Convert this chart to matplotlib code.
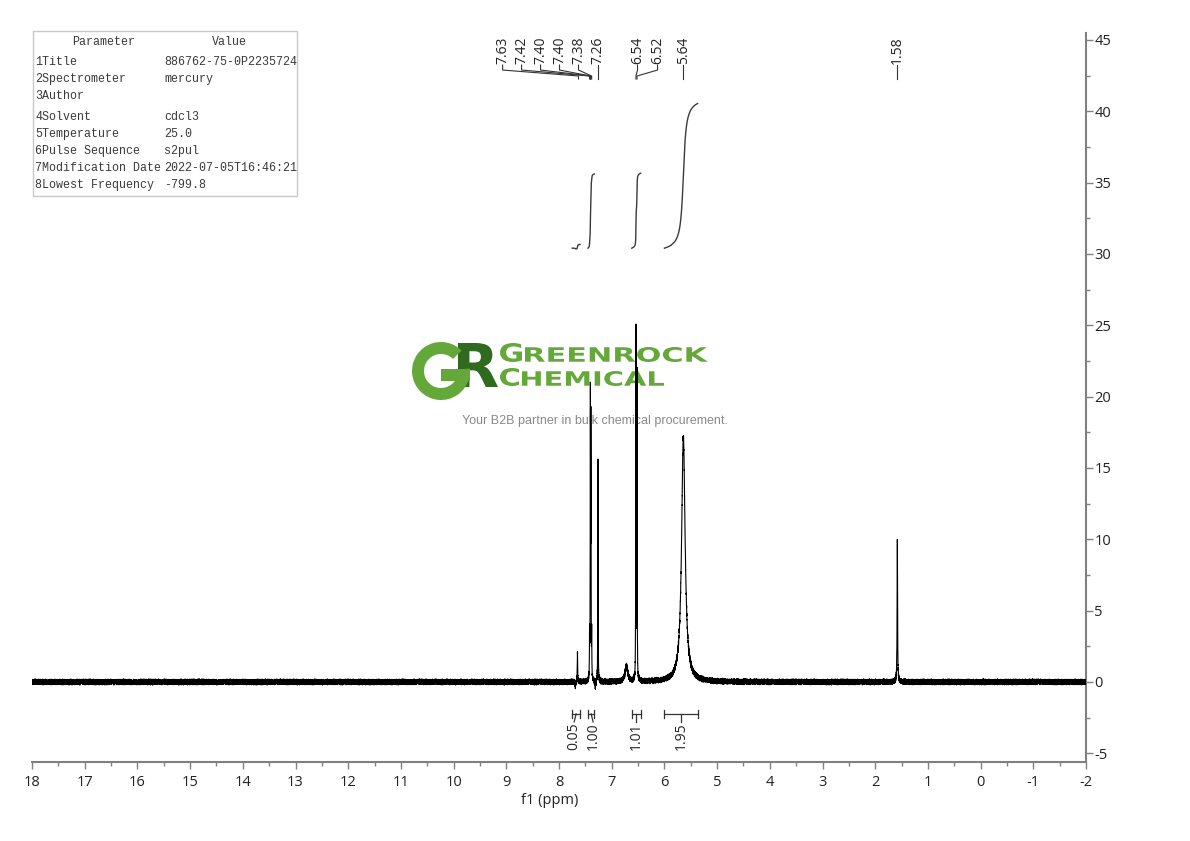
import numpy as np
import matplotlib
matplotlib.use("Agg")
import matplotlib.pyplot as plt
from matplotlib.textpath import TextPath
from matplotlib.patches import PathPatch, Wedge, Rectangle
from matplotlib.font_manager import FontProperties
from matplotlib.transforms import Affine2D, blended_transform_factory
from matplotlib.ticker import MultipleLocator

plt.rcParams["axes.unicode_minus"] = False
plt.rcParams["font.family"] = ["Open Sans", "DejaVu Sans"]

# ---------------- data ----------------
# spectrum lines (ppm, height, half width)
peak_ppm = [7.65, 7.69, 7.42, 7.405, 7.395, 7.38, 7.31, 7.26, 6.72, 6.54, 6.52, 5.64, 1.58]
peak_height = [2.1, -0.4, 3.0, 19.3, 17.4, 3.0, -0.5, 15.7, 1.1, 24.8, 21.5, 17.2, 9.9]
peak_hwhm = [0.004, 0.006, 0.003, 0.003, 0.003, 0.003, 0.006, 0.003, 0.03, 0.003, 0.003, 0.04, 0.005]
noise_level = 0.22

# peak labels
label_text = ["7.63", "7.42", "7.40", "7.40", "7.38", "7.26", "6.54", "6.52", "5.64", "1.58"]
label_peak = [7.63, 7.42, 7.40, 7.40, 7.38, 7.26, 6.54, 6.52, 5.64, 1.58]
label_pos = [9.07, 8.71, 8.35, 7.99, 7.63, 7.26, 6.51, 6.13, 5.64, 1.58]  # layout

# integrals
int_hi = [7.75, 7.45, 6.62, 6.00]
int_lo = [7.60, 7.33, 6.45, 5.37]
int_val = [0.05, 1.00, 1.01, 1.95]
int_label = ["0.05", "1.00", "1.01", "1.95"]

# axis ticks
x_ticks = list(range(18, -3, -1))
y_ticks = list(range(-5, 50, 5))

# parameter table
param_names = ["1Title", "2Spectrometer", "3Author", "4Solvent", "5Temperature",
               "6Pulse Sequence", "7Modification Date", "8Lowest Frequency"]
param_values = ["886762-75-0P2235724", "mercury", "", "cdcl3", "25.0",
                "s2pul", "2022-07-05T16:46:21", "-799.8"]

# ---------------- figure ----------------
W, H = 1190, 841
fig = plt.figure(figsize=(W / 100, H / 100), dpi=100)
fig.patch.set_facecolor("white")

ov = fig.add_axes([0, 0, 1, 1], zorder=0)
ov.set_xlim(0, W)
ov.set_ylim(H, 0)
ov.axis("off")

ax = fig.add_axes([32 / W, (H - 762) / H, 1054 / W, 729 / H], zorder=1)
ax.patch.set_alpha(0)

# spectrum
ppm = np.linspace(18, -2, 40000)
spec = np.zeros_like(ppm)
for p, h, w in zip(peak_ppm, peak_height, peak_hwhm):
    spec += h * w ** 2 / ((ppm - p) ** 2 + w ** 2)
n = np.arange(ppm.size, dtype=float)
h1 = np.modf(np.sin(n * 12.9898) * 43758.5453)[0]
h2 = np.modf(np.sin(n * 78.233 + 1.3) * 24634.6345)[0]
spec += noise_level * (h1 + h2) / 2
ax.plot(ppm, spec, color="black", lw=0.8, zorder=3)

ax.set_xlim(18, -2)
ax.set_ylim(-5.61, 45.48)

# integrals
K = 5.2
base = 30.4
for hi, lo, v in zip(int_hi, int_lo, int_val):
    m = (ppm <= hi) & (ppm >= lo)
    cs = np.cumsum(spec[m])
    cs = cs - cs[0]
    cs = cs / cs[-1] * v * K
    ax.plot(ppm[m], base + cs, color="#3a3a3a", lw=1.0, zorder=3)

# integral brackets + labels (spread labels symmetric)
centers = [(a + b) / 2 for a, b in zip(int_hi, int_lo)]
lab_x = list(centers)
min_sp = 0.36
for _ in range(50):
    for i in range(len(lab_x) - 1):
        d = lab_x[i] - lab_x[i + 1]
        if d < min_sp:
            s = (min_sp - d) / 2
            lab_x[i] += s
            lab_x[i + 1] -= s
yb = -2.24
for hi, lo, c, lx, t in zip(int_hi, int_lo, centers, lab_x, int_label):
    ax.plot([hi, lo], [yb, yb], color="#333333", lw=0.9)
    ax.plot([hi, hi], [yb - 0.3, yb + 0.3], color="#333333", lw=0.9)
    ax.plot([lo, lo], [yb - 0.3, yb + 0.3], color="#333333", lw=0.9)
    ax.plot([c, lx], [yb, -2.8], color="#333333", lw=0.9)
    ax.text(lx, -2.85, t, rotation=90, ha="center", va="top", fontsize=10, color="#222222")

# peak labels
bt = blended_transform_factory(ax.transData, ax.transAxes)
for t, pk, lx in zip(label_text, label_peak, label_pos):
    ax.text(lx, 0.9575, t, rotation=90, ha="center", va="bottom", fontsize=10,
            color="#222222", transform=bt, clip_on=False)
    ax.plot([lx, lx, pk, pk], [0.9560, 0.9492, 0.941, 0.9369], color="#333333",
            lw=0.8, transform=bt, clip_on=False)

# axes styling
for s in ["left", "top"]:
    ax.spines[s].set_visible(False)
for s in ["right", "bottom"]:
    ax.spines[s].set_color("#808080")
    ax.spines[s].set_linewidth(1.5)
ax.yaxis.tick_right()
ax.set_xticks(x_ticks)
ax.set_xticklabels([str(v) for v in x_ticks])
ax.xaxis.set_minor_locator(MultipleLocator(0.5))
ax.set_yticks(y_ticks)
ax.set_yticklabels([str(v) for v in y_ticks])
ax.yaxis.set_minor_locator(MultipleLocator(2.5))
ax.tick_params(axis="x", which="major", direction="out", length=5, width=1, color="#808080",
               labelsize=10.5, pad=4, labelcolor="#222222")
ax.tick_params(axis="x", which="minor", direction="out", length=3, width=1, color="#808080")
ax.tick_params(axis="y", which="major", direction="out", length=5, width=1, color="#808080",
               labelsize=10.5, pad=1, labelcolor="#222222")
ax.tick_params(axis="y", which="minor", direction="out", length=3, width=1, color="#808080")
ax.set_xlabel("f1 (ppm)", fontsize=10.5, color="#222222")
ax.xaxis.set_label_coords((550 - 32) / 1054, -0.043)

# ---------------- parameter table ----------------
ov.add_patch(Rectangle((33, 31), 264, 165, fc="white", ec="#c8c8c8", lw=1, zorder=2))
mono = dict(family="Liberation Mono", fontsize=8.4, color="#3a3a3a", va="center", zorder=3)
ov.text(104, 42, "Parameter", ha="center", **mono)
ov.text(229, 42, "Value", ha="center", **mono)
row_y = [62, 79, 96, 117, 134, 151, 168, 185]
for y, a, b in zip(row_y, param_names, param_values):
    ov.text(35, y, a, ha="left", **mono)
    ov.text(164, y, b, ha="left", **mono)

# ---------------- logo (watermark) ----------------
def path_text(s, x0, x1, ytop, ybot, color, family="DejaVu Sans", weight="bold"):
    fp = FontProperties(family=family, weight=weight)
    tp = TextPath((0, 0), s, size=100, prop=fp)
    bb = tp.get_extents()
    sx = (x1 - x0) / bb.width
    sy = (ybot - ytop) / bb.height
    tr = Affine2D().translate(-bb.x0, -bb.y0).scale(sx, -sy).translate(x0, ybot)
    ov.add_patch(PathPatch(tr.transform_path(tp), fc=color, ec="none", zorder=1))

light = "#65a83a"
dark = "#2f6a1f"
path_text("R", 458, 498, 343, 387, dark)
ov.add_patch(Wedge((441, 371), 29, -5, 315, width=12, fc=light, ec="none", zorder=1))
ov.add_patch(Rectangle((441, 369), 29, 12, fc=light, ec="none", zorder=1))
path_text("G", 500, 522, 343, 362, light)
path_text("REENROCK", 525, 708, 347, 362, light)
path_text("C", 500, 519, 368, 386, light)
path_text("HEMICAL", 522, 664, 371, 386, light)
ov.text(595, 421, "Your B2B partner in bulk chemical procurement.", ha="center", va="center",
        fontsize=9, family="Liberation Sans", color="#8a8a8a", zorder=1)

fig.savefig("out.png", dpi=100)
